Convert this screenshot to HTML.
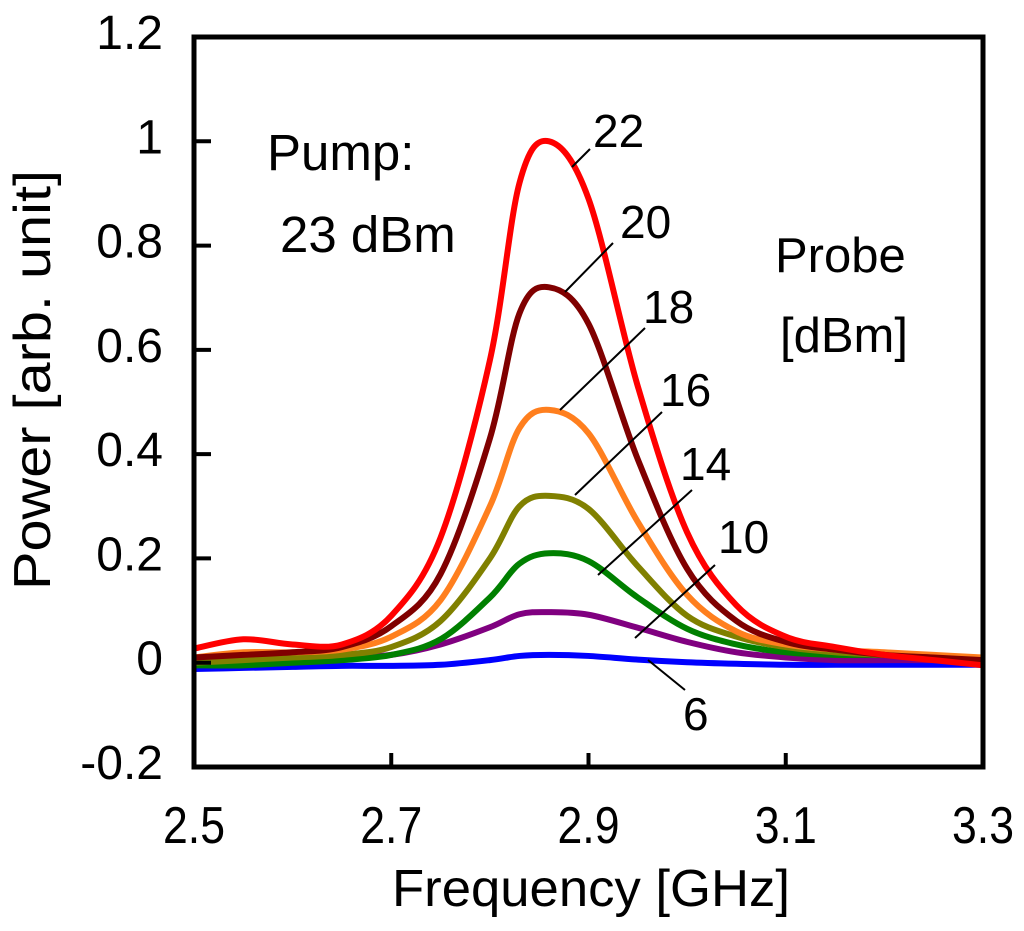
<!DOCTYPE html>
<html><head><meta charset="utf-8"><style>
body{margin:0;background:#fff;}
svg text{font-family:"Liberation Sans",Arial,sans-serif;fill:#000;}
</style></head><body>
<svg id="chart" width="1024" height="926" viewBox="0 0 1024 926" xmlns="http://www.w3.org/2000/svg">
<g id="marks"></g>
<rect x="194" y="37" width="789" height="730" fill="none" stroke="#000" stroke-width="5"/>
<g id="ticks"></g>
<text x="591" y="906" font-size="52" text-anchor="middle" textLength="398" lengthAdjust="spacingAndGlyphs">Frequency [GHz]</text>
<text transform="translate(50,380) rotate(-90)" font-size="52" text-anchor="middle" textLength="420" lengthAdjust="spacingAndGlyphs">Power [arb. unit]</text>
<text x="267" y="170" font-size="51">Pump:</text>
<text x="280" y="252" font-size="51">23 dBm</text>
<text x="775" y="272" font-size="49">Probe</text>
<text x="780" y="352" font-size="49">[dBm]</text>
<g id="labels"></g>
</svg>
<script>
const xs=[2.5,2.55,2.6,2.65,2.7,2.75,2.8,2.83,2.86,2.9,2.95,3.0,3.05,3.1,3.15,3.2,3.25,3.3];
const s22=[0.027,0.045,0.035,0.035,0.09,0.24,0.58,0.92,1.0,0.89,0.53,0.25,0.11,0.05,0.03,0.015,0.005,-0.005];
const s20=[0.01,0.015,0.02,0.03,0.07,0.17,0.43,0.67,0.72,0.65,0.39,0.18,0.08,0.04,0.025,0.015,0.01,0.005];
const s18=[0.01,0.02,0.02,0.025,0.05,0.12,0.3,0.45,0.485,0.44,0.27,0.13,0.06,0.035,0.025,0.02,0.015,0.01];
const s16=[0.0,0.005,0.01,0.015,0.03,0.08,0.2,0.3,0.32,0.295,0.185,0.09,0.05,0.03,0.02,0.015,0.01,0.01];
const s14=[-0.005,-0.005,0,0.005,0.015,0.045,0.125,0.19,0.21,0.195,0.125,0.065,0.035,0.02,0.015,0.015,0.01,0.01];
const s10=[0.0,0.005,0.005,0.01,0.015,0.035,0.068,0.093,0.097,0.092,0.067,0.04,0.02,0.01,0.005,0.005,0.005,0.005];
const s6=[-0.012,-0.01,-0.008,-0.006,-0.006,-0.004,0.005,0.013,0.015,0.013,0.006,0.001,-0.002,-0.004,-0.004,-0.004,-0.004,-0.004];
const seriesNames=["6","10","14","16","18","20","22"];
const xTicks=[2.5,2.7,2.9,3.1,3.3];
const xTickLabels=["2.5","2.7","2.9","3.1","3.3"];
const yTicks=[-0.2,0,0.2,0.4,0.6,0.8,1,1.2];
const yTickLabels=["-0.2","0","0.2","0.4","0.6","0.8","1","1.2"];

const X=v=>194+(v-2.5)/0.8*789;
const Y=v=>767-(v+0.2)/1.4*730;
const NS="http://www.w3.org/2000/svg";
const series=[s6,s10,s14,s16,s18,s20,s22];
const colors=["#0000ff","#800080","#008000","#808000","#ff7f1e","#800000","#ff0000"];
function pathFor(ys){
  const p=xs.map((x,i)=>[X(x),Y(ys[i])]);
  let d="M"+p[0][0]+","+p[0][1];
  for(let i=0;i<p.length-1;i++){
    const p0=p[Math.max(0,i-1)],p1=p[i],p2=p[i+1],p3=p[Math.min(p.length-1,i+2)];
    const c1=[p1[0]+(p2[0]-p0[0])/6,p1[1]+(p2[1]-p0[1])/6];
    const c2=[p2[0]-(p3[0]-p1[0])/6,p2[1]-(p3[1]-p1[1])/6];
    d+=" C"+c1+" "+c2+" "+p2;
  }
  return d;
}
const marks=document.getElementById("marks");
series.forEach((ys,k)=>{
  const el=document.createElementNS(NS,"path");
  el.setAttribute("d",pathFor(ys));
  el.setAttribute("fill","none");
  el.setAttribute("stroke",colors[k]);
  el.setAttribute("stroke-width","6");
  
  
  marks.appendChild(el);
});
const ticks=document.getElementById("ticks");
xTicks.forEach((v,i)=>{
  const l=document.createElementNS(NS,"line");
  l.setAttribute("x1",X(v));l.setAttribute("x2",X(v));
  l.setAttribute("y1",767);l.setAttribute("y2",753);
  l.setAttribute("stroke","#000");l.setAttribute("stroke-width","4");
  
  
  ticks.appendChild(l);
  const t=document.createElementNS(NS,"text");
  t.setAttribute("x",X(v));t.setAttribute("y",843);
  t.setAttribute("font-size","52");t.setAttribute("text-anchor","middle");
  t.setAttribute("textLength","62");t.setAttribute("lengthAdjust","spacingAndGlyphs");
  t.textContent=xTickLabels[i];
  
  
  ticks.appendChild(t);
});
yTicks.forEach((v,i)=>{
  const l=document.createElementNS(NS,"line");
  l.setAttribute("x1",194);l.setAttribute("x2",211);
  l.setAttribute("y1",Y(v));l.setAttribute("y2",Y(v));
  l.setAttribute("stroke","#000");l.setAttribute("stroke-width","4");
  
  
  ticks.appendChild(l);
  const t=document.createElementNS(NS,"text");
  t.setAttribute("x",163);t.setAttribute("y",Y(v)+12);
  t.setAttribute("font-size","48");t.setAttribute("text-anchor","end");
  t.textContent=yTickLabels[i];
  
  
  ticks.appendChild(t);
});
const ann=[["22",572,167,590,149,593,147],["20",565,292,613,243,620,238],["18",560,410,645,328,643,323],["16",575,495,662,412,660,406],["14",598,575,692,490,680,480],["10",635,638,715,565,718,553],["6",648,660,685,690,683,730]];
const labels=document.getElementById("labels");
ann.forEach(a=>{
  const l=document.createElementNS(NS,"line");
  l.setAttribute("x1",a[1]);l.setAttribute("y1",a[2]);l.setAttribute("x2",a[3]);l.setAttribute("y2",a[4]);
  l.setAttribute("stroke","#000");l.setAttribute("stroke-width","2");
  
  
  labels.appendChild(l);
  const t=document.createElementNS(NS,"text");
  t.setAttribute("x",a[5]);t.setAttribute("y",a[6]);t.setAttribute("font-size","46");
  t.textContent=a[0];
  
  
  labels.appendChild(t);
});
</script>
</body></html>
